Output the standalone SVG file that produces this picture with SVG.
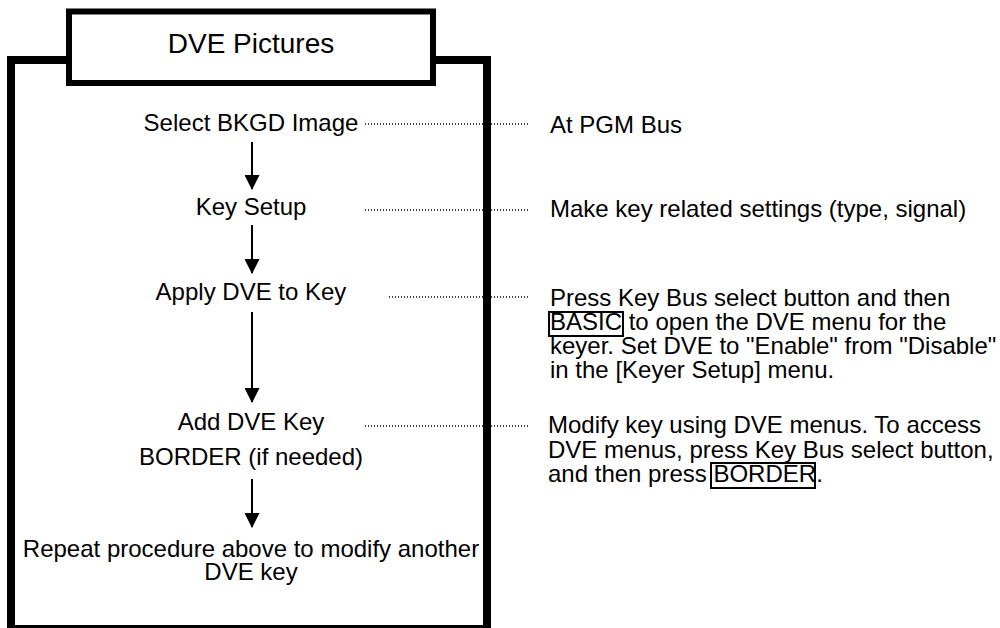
<svg xmlns="http://www.w3.org/2000/svg" width="1000" height="628" viewBox="0 0 1000 628">
<style>
text{font-family:"Liberation Sans",Arial,sans-serif;font-size:24px;fill:#000}
.c{text-anchor:middle}
.title{font-size:28px}
.dot{stroke:#000;stroke-width:1.3;stroke-dasharray:1 2;fill:none}
.arr{stroke:#000;stroke-width:2;fill:none}
.kbox{fill:none;stroke:#000;stroke-width:2}
</style>
<defs>
<marker id="ah" markerWidth="15" markerHeight="15" refX="14" refY="7.5" orient="auto" markerUnits="userSpaceOnUse">
<path d="M0,0 L15,7.5 L0,15 Z" fill="#000"/>
</marker>
</defs>
<rect width="1000" height="628" fill="#fff"/>
<g id="frame">
<rect x="11" y="60" width="476" height="569" fill="none" stroke="#000" stroke-width="8"/>
</g>
<g id="title">
<rect x="69" y="11.5" width="364" height="71.5" fill="#fff" stroke="#000" stroke-width="6"/>
<text class="c title" x="251" y="53">DVE Pictures</text>
</g>
<g id="connectors">
<line class="dot" x1="365" y1="124" x2="530" y2="124"/>
<line class="dot" x1="365" y1="210" x2="530" y2="210"/>
<line class="dot" x1="389" y1="297" x2="530" y2="297"/>
<line class="dot" x1="365" y1="426" x2="530" y2="426"/>
<line class="arr" x1="252" y1="142" x2="252" y2="189" marker-end="url(#ah)"/>
<line class="arr" x1="252" y1="225" x2="252" y2="273" marker-end="url(#ah)"/>
<line class="arr" x1="252" y1="312" x2="252" y2="402" marker-end="url(#ah)"/>
<line class="arr" x1="252" y1="479" x2="252" y2="527" marker-end="url(#ah)"/>
</g>
<g id="step1"><text class="c" x="251" y="131">Select BKGD Image</text></g>
<g id="step2"><text class="c" x="251" y="215">Key Setup</text></g>
<g id="step3"><text class="c" x="251" y="300">Apply DVE to Key</text></g>
<g id="step4"><text class="c" x="251" y="430">Add DVE Key</text><text class="c" x="251" y="465">BORDER (if needed)</text></g>
<g id="step5"><text class="c" x="251" y="557">Repeat procedure above to modify another</text><text class="c" x="251" y="580">DVE key</text></g>
<g id="note1"><text x="550" y="133">At PGM Bus</text></g>
<g id="note2"><text x="550" y="217">Make key related settings (type, signal)</text></g>
<g id="note3">
<text x="550" y="306">Press Key Bus select button and then</text>
<text x="550" y="330">BASIC to open the DVE menu for the</text>
<text x="550" y="354">keyer. Set DVE to "Enable" from "Disable"</text>
<text x="550" y="378">in the [Keyer Setup] menu.</text>
<rect class="kbox" x="549" y="312" width="74" height="24"/>
</g>
<g id="note4">
<text x="548" y="433">Modify key using DVE menus. To access</text>
<text x="548" y="458">DVE menus, press Key Bus select button,</text>
<text x="548" y="482">and then press BORDER.</text>
<rect class="kbox" x="711" y="463" width="104" height="25"/>
</g>
</svg>
